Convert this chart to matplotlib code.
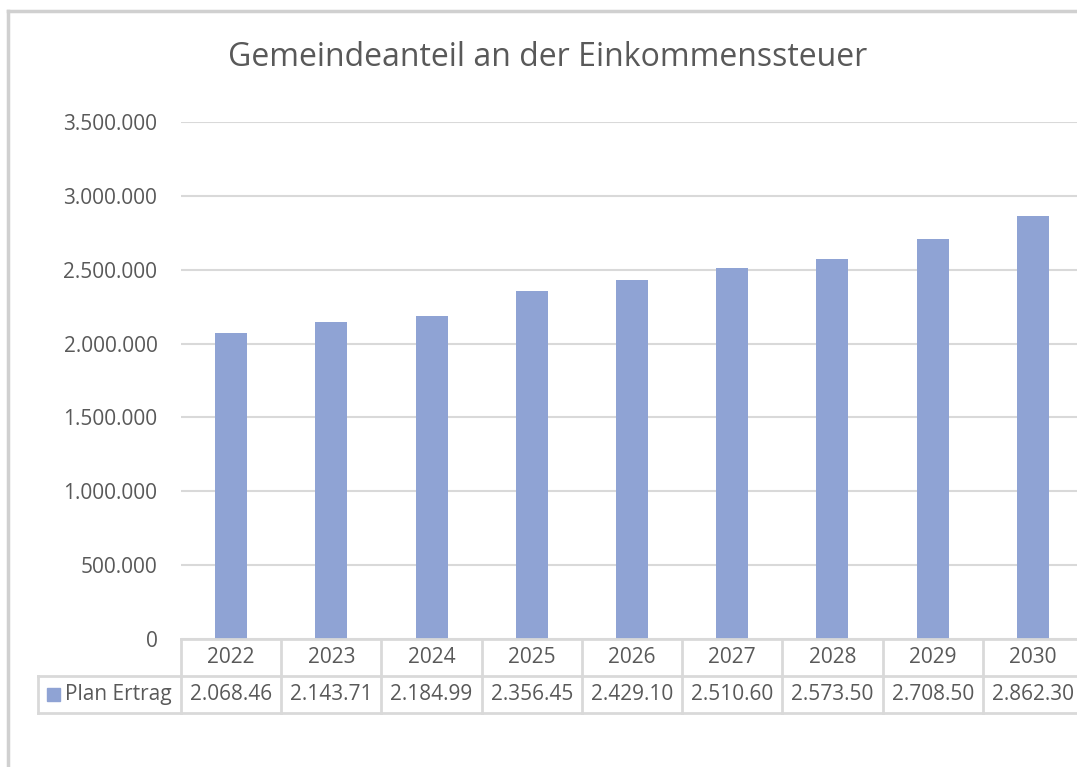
import matplotlib.pyplot as plt
from matplotlib.lines import Line2D
from matplotlib.patches import Rectangle
import matplotlib.transforms as mtransforms

plt.rcParams['font.family'] = ['Open Sans', 'DejaVu Sans']

# Daten
jahre = ['2022', '2023', '2024', '2025', '2026', '2027', '2028', '2029', '2030']
plan_ertrag = [2068460, 2143710, 2184990, 2356450, 2429100, 2510600, 2573500, 2708500, 2862300]
tabelle_werte = ['2.068.46', '2.143.71', '2.184.99', '2.356.45', '2.429.10',
                 '2.510.60', '2.573.50', '2.708.50', '2.862.30']
y_ticks = [0, 500000, 1000000, 1500000, 2000000, 2500000, 3000000, 3500000]
y_labels = ['0', '500.000', '1.000.000', '1.500.000', '2.000.000',
            '2.500.000', '3.000.000', '3.500.000']
serie = 'Plan Ertrag'

W, H = 1077, 767
farbe = '#8FA3D4'
grau = '#d9d9d9'
text = '#595959'

fig = plt.figure(figsize=(W / 100, H / 100), dpi=100)

def fx(px):
    return px / W

def fy(py):
    return 1 - py / H

# Plotbereich (rechts abgeschnitten wie im Original)
x0, x1, y_top, y_null = 181, 1083, 122, 639
ax = fig.add_axes([fx(x0), fy(y_null), fx(x1 - x0), (y_null - y_top) / H])
x = list(range(len(jahre)))
ax.bar(x, plan_ertrag, width=0.32, color=farbe, zorder=3)
ax.set_xlim(-0.5, len(jahre) - 0.5)
ax.set_ylim(0, 3500000)
ax.set_yticks(y_ticks)
ax.set_yticklabels(y_labels)
ax.tick_params(axis='y', length=0, pad=17, labelsize=15, labelcolor=text)
ax.set_xticks([])
ax.grid(axis='y', color=grau, linewidth=1.5, zorder=0)
for s in ax.spines.values():
    s.set_visible(False)
ax.set_facecolor('none')

# Titel
fig.text(fx(548), fy(58), 'Gemeindeanteil an der Einkommenssteuer',
         ha='center', va='center', fontsize=23, color=text)

# Datentabelle
tr = mtransforms.blended_transform_factory(ax.transData, fig.transFigure)
r0, r1, r2 = fy(639), fy(676), fy(713)
for i in range(len(jahre) + 1):
    fig.add_artist(Line2D([i - 0.5, i - 0.5], [r0, r2], transform=tr,
                          color=grau, linewidth=2))
for r in (r0, r1, r2):
    fig.add_artist(Line2D([-0.5, len(jahre) - 0.5], [r, r], transform=tr,
                          color=grau, linewidth=2))
for i, (j, v) in enumerate(zip(jahre, tabelle_werte)):
    fig.text(i, (r0 + r1) / 2, j, transform=tr, ha='center', va='center',
             fontsize=15, color=text)
    fig.text(i, (r1 + r2) / 2, v, transform=tr, ha='center', va='center',
             fontsize=15, color=text)

# Legendenzelle
lx = 38
fig.add_artist(Line2D([fx(lx), fx(x0)], [r1, r1], color=grau, linewidth=2))
fig.add_artist(Line2D([fx(lx), fx(x0)], [r2, r2], color=grau, linewidth=2))
fig.add_artist(Line2D([fx(lx), fx(lx)], [r1, r2], color=grau, linewidth=2))
fig.add_artist(Rectangle((fx(47), fy(701)), fx(13), 13 / H, color=farbe))
fig.text(fx(65), (r1 + r2) / 2, serie, ha='left', va='center',
         fontsize=15, color=text)

# Rahmen
fig.add_artist(Line2D([fx(8), 1], [fy(11), fy(11)], color='#d0d0d0', linewidth=2.5))
fig.add_artist(Line2D([fx(8), fx(8)], [fy(11), 0], color='#d0d0d0', linewidth=2.5))

fig.savefig('out.png', dpi=100)
